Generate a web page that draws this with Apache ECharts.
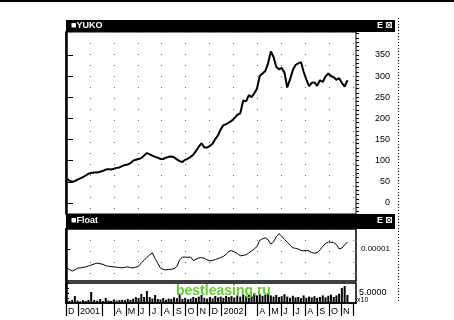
<!DOCTYPE html>
<html><head><meta charset="utf-8">
<script src="https://cdn.jsdelivr.net/npm/echarts@6/dist/echarts.min.js"></script>
<style>html,body{margin:0;padding:0;background:#fff}#c{width:454px;height:320px}</style>
</head><body><div id="c"></div><script>
// ---- data ----
const monthLabels = ['D','2001','','','A','M','J','J','A','S','O','N','D','2002','','','A','M','J','J','A','S','O','N','D'];
const labelMonths = [0,1,4,5,6,7,8,9,10,11,12,13,16,17,18,19,20,21,22,23];
const tickMonths = [0,1,3,4,5,6,7,8,9,10,11,12,13,15,16,17,18,19,20,21,22,23,24];
const priceTicks = [0,50,100,150,200,250,300,350];
const floatTicks = [1];
const volumeTicks = [5];
const firstWeek = '2000-12-03';
const priceWeekly = [57,53,50,52,55,58,61,65,69,71,
  72,72,74,76,79,80,79,81,83,84,
  87,90,91,94,100,102,104,106,112,118,
  115,112,109,107,104,104,107,109,110,108,
  103,99,97,102,105,109,114,123,133,141,
  131,131,135,140,151,160,174,184,186,190,
  194,200,208,212,242,240,255,250,259,270,
  300,306,312,330,358,345,322,316,319,308,
  273,292,314,326,330,333,310,292,276,284,
  285,277,290,286,299,306,300,297,291,295,
  284,275,290];
const floatWeekly = [.41,.36,.31,.35,.40,.41,.43,.44,.47,.50,
  .53,.56,.54,.52,.48,.46,.45,.44,.43,.42,
  .41,.43,.44,.42,.41,.43,.46,.57,.65,.74,
  .82,.88,.70,.55,.40,.36,.35,.36,.37,.38,
  .45,.66,.74,.75,.74,.75,.64,.68,.72,.73,
  .71,.66,.63,.64,.67,.70,.73,.77,.83,.93,
  .95,.91,.86,.79,.80,.82,.88,.94,1.00,1.08,
  1.27,1.32,1.35,1.29,1.15,1.22,1.38,1.48,1.40,1.30,
  1.21,1.12,1.04,1.02,1.00,.96,.94,.96,.94,.89,
  .87,.88,.97,1.08,1.17,1.22,1.21,1.20,1.14,1.00,
  1.03,1.13,1.22];
const volumeWeekly = [1.2,1.0,1.5,3.5,1.2,0.8,1.4,1.0,1.6,5.5,
  1.5,1.2,2.0,1.0,2.5,1.3,1.0,1.8,1.2,1.5,
  1.6,1.4,2.0,1.5,2.2,3.0,2.5,4.5,3.0,6.0,
  3.0,2.2,4.0,2.0,1.8,2.5,1.6,2.2,2.0,2.8,
  2.4,4.5,2.0,2.6,1.8,2.2,3.0,2.5,3.2,4.0,
  2.6,2.2,3.0,2.4,3.5,2.8,3.2,2.6,3.6,3.0,
  3.4,2.8,3.8,3.2,4.5,3.6,4.0,3.4,4.8,3.8,
  4.6,3.6,4.2,5.0,3.8,3.2,4.0,3.0,3.4,4.4,
  3.2,2.6,3.6,2.8,3.0,2.4,3.8,2.6,3.2,2.8,
  3.4,2.6,3.0,3.8,2.8,3.6,4.2,3.0,3.8,4.6,
  7.5,8.5,4.0];

// ---- date -> month index (0 = 1 Dec 2000) ----
function monthIndex(d){
  const y=d.getUTCFullYear(), m=d.getUTCMonth();
  const dim=new Date(Date.UTC(y,m+1,0)).getUTCDate();
  return (y-2000)*12 + m - 11 + (d.getUTCDate()-1)/dim;
}
const t0 = new Date(firstWeek+'T00:00:00Z').getTime();
const xs = priceWeekly.map((_,i)=>monthIndex(new Date(t0+i*7*86400000)));
const pair = arr => arr.map((v,i)=>[xs[i],v]);

const FONT='Liberation Sans';
const XMIN=0, XMAX=24.25;
const minorMain=[]; for(let v=-20;v<=400;v+=10) minorMain.push(v);

const grids=[
  {left:66,right:98,top:32,height:182,show:true,borderColor:'#000',borderWidth:1},
  {left:66,right:98,top:229,height:52,show:true,borderColor:'#000',borderWidth:1.5},
  {left:66,right:98,top:283,height:20,show:true,borderColor:'#000',borderWidth:1.5}
];
const hiddenX = g => ({type:'value',gridIndex:g,min:XMIN,max:XMAX,interval:2,
  axisLine:{show:false},axisTick:{show:false},axisLabel:{show:false},
  splitLine:{show:true,lineStyle:{color:'#666',width:1,type:[1,10]}}});

const option={
  animation:false,
  backgroundColor:'#fff',
  grid:grids,
  xAxis:[hiddenX(0),hiddenX(1),
    {type:'value',gridIndex:2,min:XMIN,max:XMAX,interval:1,
     axisLine:{show:true,lineStyle:{color:'#000',width:1.5}},
     axisTick:{show:true,customValues:tickMonths,length:13,lineStyle:{color:'#000',width:1.2}},
     axisLabel:{show:true,customValues:labelMonths,align:'left',padding:[0,0,0,2],margin:4,
       fontFamily:FONT,fontSize:9,color:'#000',
       formatter:v=>monthLabels[Math.round(v)]},
     splitLine:{show:false}}
  ],
  yAxis:[
    {type:'value',gridIndex:0,position:'right',min:-26,max:404,
     axisLine:{show:true,lineStyle:{color:'#000',width:1}},
     axisTick:{show:true,customValues:priceTicks,length:7,lineStyle:{color:'#000'}},
     axisLabel:{show:true,customValues:priceTicks,align:'right',margin:34,fontFamily:FONT,fontSize:9,color:'#000',formatter:v=>String(v)},
     splitLine:{show:false}},
    {type:'value',gridIndex:0,position:'right',min:-26,max:404,
     axisLine:{show:false},
     axisTick:{show:true,customValues:minorMain,length:3,lineStyle:{color:'#000'}},
     axisLabel:{show:false},splitLine:{show:false}},
    {type:'value',gridIndex:0,position:'left',min:-26,max:404,
     axisLine:{show:true,lineStyle:{color:'#000',width:2.5}},axisTick:{show:false},axisLabel:{show:false},splitLine:{show:false}},
    {type:'value',gridIndex:1,position:'right',min:0,max:1.625,
     axisLine:{show:true,lineStyle:{color:'#000'}},
     axisTick:{show:true,customValues:floatTicks,length:4,lineStyle:{color:'#000'}},
     axisLabel:{show:true,customValues:floatTicks,margin:5,fontFamily:FONT,fontSize:8,color:'#000',formatter:v=>(v*1e-5).toFixed(5)},
     splitLine:{show:false}},
    {type:'value',gridIndex:1,position:'left',min:0,max:1.625,
     axisLine:{show:true,lineStyle:{color:'#000',width:2.5}},axisTick:{show:false},axisLabel:{show:false},splitLine:{show:false}},
    {type:'value',gridIndex:2,position:'right',min:0,max:10,
     axisLine:{show:true,lineStyle:{color:'#000'}},
     axisTick:{show:true,customValues:[0,2.5,5,7.5,10],length:3,lineStyle:{color:'#000'}},
     axisLabel:{show:true,customValues:volumeTicks,margin:3,fontFamily:FONT,fontSize:9,color:'#000',formatter:v=>v.toFixed(4)},
     splitLine:{show:false}},
    {type:'value',gridIndex:2,position:'left',min:0,max:10,
     axisLine:{show:true,lineStyle:{color:'#000',width:2.5}},axisTick:{show:false},axisLabel:{show:false},splitLine:{show:false}}
  ],
  series:[
    {name:'YUKO',type:'line',xAxisIndex:0,yAxisIndex:0,data:pair(priceWeekly),showSymbol:false,
     lineStyle:{color:'#000',width:2},z:5},
    {name:'Float',type:'line',xAxisIndex:1,yAxisIndex:3,data:pair(floatWeekly),showSymbol:false,
     lineStyle:{color:'#000',width:1},z:5},
    {name:'Volume',type:'bar',xAxisIndex:2,yAxisIndex:5,data:pair(volumeWeekly),barWidth:2,
     itemStyle:{color:'#000'},z:5}
  ],
  graphic:[
    {type:'line',shape:{x1:0,y1:1,x2:454,y2:1},style:{stroke:'#000',lineWidth:2},z:100},
    {type:'rect',shape:{x:66,y:20,width:329,height:12},style:{fill:'#000'},z:100},
    {type:'text',x:71,y:26,style:{text:'■YUKO',fill:'#fff',font:'bold 9px Liberation Sans',verticalAlign:'middle'},z:101},
    {type:'text',x:377,y:26,style:{text:'E',fill:'#fff',font:'bold 9px Liberation Sans',verticalAlign:'middle'},z:101},
    {type:'text',x:385,y:26,style:{text:'⊠',fill:'#fff',font:'bold 9px DejaVu Sans',verticalAlign:'middle'},z:101},
    {type:'rect',shape:{x:66,y:214,width:329,height:15},style:{fill:'#000'},z:100},
    {type:'text',x:71,y:221,style:{text:'■Float',fill:'#fff',font:'bold 9px Liberation Sans',verticalAlign:'middle'},z:101},
    {type:'text',x:377,y:221,style:{text:'E',fill:'#fff',font:'bold 9px Liberation Sans',verticalAlign:'middle'},z:101},
    {type:'text',x:385,y:221,style:{text:'⊠',fill:'#fff',font:'bold 9px DejaVu Sans',verticalAlign:'middle'},z:101},
    {type:'line',shape:{x1:398.5,y1:18,x2:398.5,y2:302},style:{stroke:'#000',lineWidth:1,lineDash:[1,2]},z:100},
    {type:'text',x:357,y:300,style:{text:'x10',fill:'#000',font:'7px Liberation Sans',verticalAlign:'middle'},z:101},
    {type:'text',x:176,y:291,style:{text:'bestleasing.ru',fill:'#66cc33',font:'bold 14px Liberation Sans',verticalAlign:'middle'},z:110}
  ]
};
const chart=echarts.init(document.getElementById('c'),null,{renderer:'canvas'});
chart.setOption(option);
</script></body></html>
